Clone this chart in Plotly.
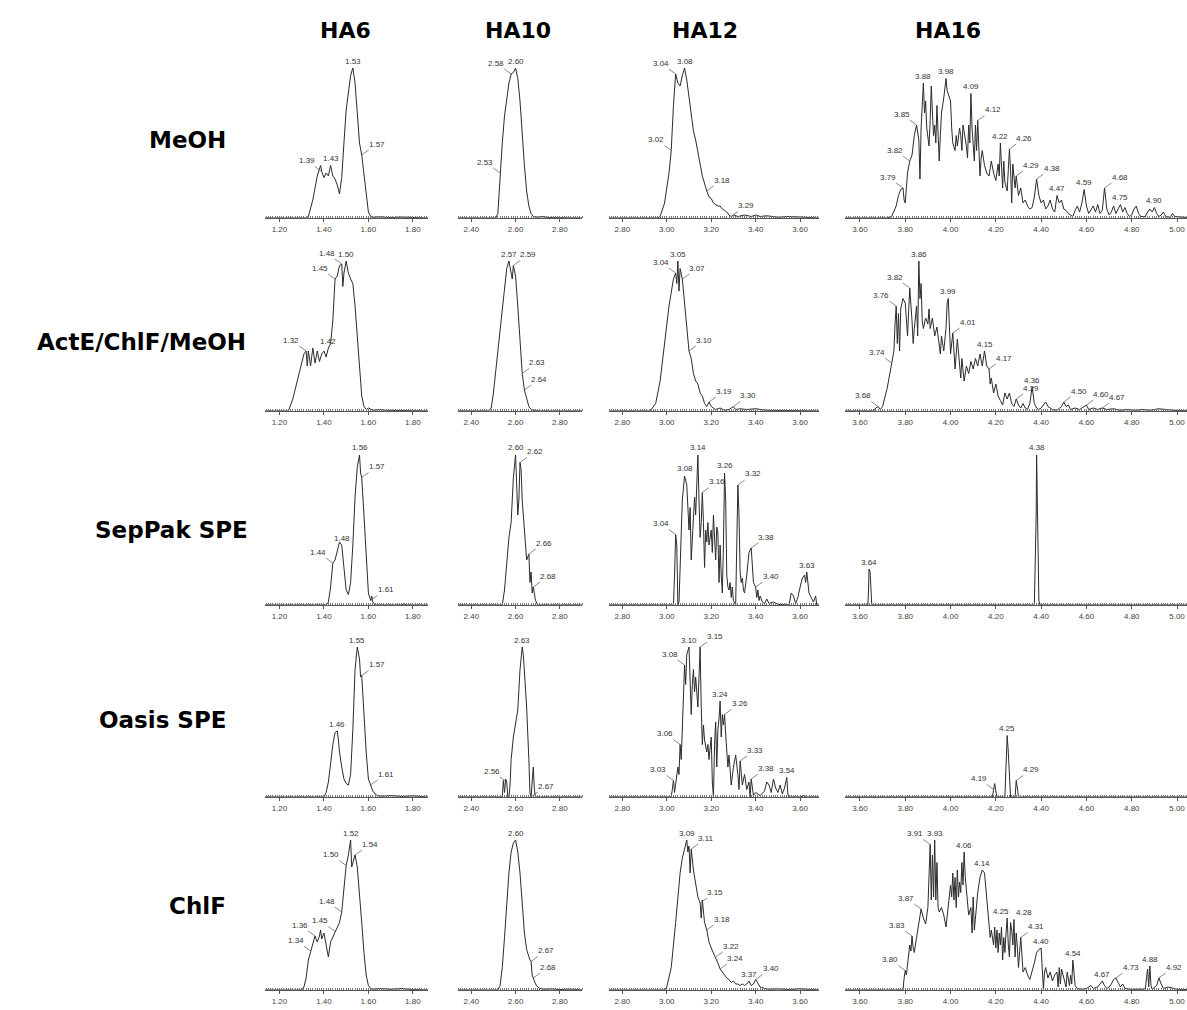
import numpy as np
import plotly.graph_objects as go

# ---------------- categories ----------------
columns = ["HA6", "HA10", "HA12", "HA16"]
rows = ["MeOH", "ActE/ChlF/MeOH", "SepPak SPE", "Oasis SPE", "ChlF"]

# ---------------- chromatogram data: (retention time, relative intensity) ----------------
meoh_ha6 = [(1.135,0),(1.32,0),(1.33,1),(1.35,12),(1.37,28),(1.385,35),(1.39,31),(1.40,27),(1.41,30),(1.42,28),
            (1.43,35),(1.44,28),(1.45,26),(1.46,22),(1.47,16),(1.48,27),(1.49,50),(1.50,72),(1.52,95),(1.53,100),
            (1.54,90),(1.55,68),(1.56,50),(1.57,42),(1.58,30),(1.59,14),(1.60,4),(1.61,1),(1.62,0.5),(1.65,0.8),
            (1.70,0.3),(1.75,0.6),(1.80,0.2),(1.868,0)]
meoh_ha10 = [(2.34,0),(2.51,0),(2.52,3),(2.53,30),(2.54,50),(2.55,68),(2.56,80),(2.57,90),(2.58,96),(2.59,97),
             (2.60,100),(2.61,93),(2.62,78),(2.63,55),(2.64,35),(2.65,18),(2.66,8),(2.67,3),(2.68,1),(2.70,0.5),
             (2.72,1),(2.75,0.3),(2.90,0)]
meoh_ha12 = [(2.74,0),(2.96,0),(2.97,1),(2.99,10),(3.01,30),(3.02,45),(3.03,75),(3.04,96),(3.05,90),(3.06,88),
             (3.07,95),(3.08,100),(3.09,92),(3.10,80),(3.11,68),(3.12,58),(3.13,52),(3.14,45),(3.15,36),(3.16,28),
             (3.17,22),(3.18,18),(3.19,14),(3.20,13),(3.21,10),(3.22,9),(3.23,8),(3.24,8),(3.25,6),(3.26,5),
             (3.27,4),(3.28,2),(3.29,1),(3.30,2),(3.32,1),(3.35,2),(3.38,1),(3.40,2),(3.42,1),(3.45,1.5),
             (3.50,0.5),(3.55,1),(3.60,1),(3.62,0.5),(3.685,0)]
meoh_ha16 = [(3.53,0),(3.72,0),(3.74,1),(3.76,8),(3.77,15),(3.78,19),(3.79,20),(3.795,12),(3.80,10),(3.81,30),
             (3.82,38),(3.83,42),(3.84,55),(3.85,62),(3.86,52),(3.865,26),(3.87,60),(3.88,90),(3.885,70),(3.89,78),
             (3.895,60),(3.90,52),(3.905,48),(3.91,65),(3.915,88),(3.92,70),(3.925,55),(3.93,62),(3.935,50),(3.94,75),
             (3.945,58),(3.95,38),(3.955,55),(3.96,70),(3.97,80),(3.98,93),(3.985,85),(3.99,82),(4.00,78),(4.005,60),
             (4.01,50),(4.02,45),(4.025,55),(4.03,48),(4.04,60),(4.045,55),(4.05,45),(4.055,62),(4.06,58),(4.07,48),
             (4.075,40),(4.08,62),(4.085,50),(4.09,83),(4.095,60),(4.10,45),(4.105,38),(4.11,62),(4.115,45),(4.12,65),
             (4.125,50),(4.13,28),(4.135,40),(4.14,45),(4.15,35),(4.16,30),(4.17,28),(4.18,38),(4.19,30),(4.20,25),
             (4.21,36),(4.215,28),(4.22,50),(4.225,35),(4.23,20),(4.235,38),(4.24,24),(4.25,18),(4.255,30),(4.26,46),
             (4.265,32),(4.27,10),(4.275,36),(4.28,30),(4.285,20),(4.29,28),(4.30,15),(4.31,20),(4.32,10),(4.33,12),
             (4.34,8),(4.35,6),(4.36,7),(4.37,14),(4.38,26),(4.39,15),(4.40,10),(4.41,12),(4.42,6),(4.43,8),
             (4.44,12),(4.45,6),(4.46,4),(4.47,15),(4.48,10),(4.49,12),(4.50,6),(4.51,5),(4.52,3),(4.53,2),
             (4.54,1),(4.55,5),(4.56,8),(4.57,4),(4.58,10),(4.59,19),(4.60,8),(4.61,3),(4.62,6),(4.63,8),
             (4.64,4),(4.65,9),(4.66,3),(4.67,5),(4.68,20),(4.69,6),(4.70,2),(4.71,4),(4.72,8),(4.73,3),
             (4.74,6),(4.75,9),(4.76,4),(4.77,7),(4.78,3),(4.79,1),(4.80,2),(4.81,6),(4.82,8),(4.83,3),
             (4.84,1),(4.86,1),(4.87,4),(4.88,6),(4.89,4),(4.90,7),(4.91,3),(4.92,1),(4.93,2),(4.94,4),
             (4.95,1),(4.97,0.5),(4.98,3),(4.99,1),(5.07,0)]

acte_ha6 = [(1.135,0),(1.24,0),(1.26,8),(1.28,20),(1.30,30),(1.31,38),(1.32,40),(1.325,30),(1.33,40),(1.34,30),
            (1.35,42),(1.36,32),(1.37,40),(1.38,33),(1.39,38),(1.40,40),(1.41,36),(1.42,42),(1.43,45),(1.44,60),
            (1.45,88),(1.46,90),(1.47,97),(1.48,98),(1.485,83),(1.49,92),(1.50,100),(1.51,92),(1.52,88),(1.53,85),
            (1.54,70),(1.55,50),(1.56,28),(1.57,10),(1.58,3),(1.59,1),(1.60,2),(1.62,0.5),(1.65,1),(1.68,0.5),
            (1.868,0)]
acte_ha10 = [(2.34,0),(2.48,0),(2.49,2),(2.50,12),(2.52,40),(2.54,70),(2.55,85),(2.56,95),(2.57,100),(2.58,93),
             (2.585,88),(2.59,97),(2.60,90),(2.61,70),(2.62,48),(2.63,25),(2.64,14),(2.65,8),(2.66,3),(2.67,1),
             (2.68,0.5),(2.70,0),(2.90,0)]
acte_ha12 = [(2.74,0),(2.92,0),(2.93,1),(2.95,5),(2.97,20),(2.99,45),(3.01,70),(3.03,88),(3.04,92),(3.045,85),
             (3.05,100),(3.055,80),(3.06,95),(3.07,88),(3.075,80),(3.08,75),(3.09,55),(3.10,40),(3.11,35),(3.12,25),
             (3.13,20),(3.14,18),(3.15,12),(3.16,10),(3.17,5),(3.18,3),(3.19,6),(3.20,3),(3.21,2),(3.22,1),
             (3.24,2),(3.26,0.5),(3.28,1),(3.29,2),(3.30,3),(3.31,1),(3.33,1.5),(3.36,1),(3.40,1.5),(3.45,0.5),
             (3.50,0.3),(3.685,0)]
acte_ha16 = [(3.53,0),(3.66,0),(3.67,2),(3.68,3),(3.69,1),(3.70,3),(3.72,15),(3.74,32),(3.75,40),(3.755,58),
             (3.76,70),(3.765,45),(3.77,65),(3.775,40),(3.78,68),(3.79,75),(3.80,72),(3.81,50),(3.82,82),(3.83,60),
             (3.835,45),(3.84,55),(3.85,70),(3.855,50),(3.86,100),(3.865,75),(3.87,85),(3.875,60),(3.88,55),(3.89,62),
             (3.90,58),(3.905,68),(3.91,55),(3.92,62),(3.93,50),(3.94,56),(3.95,45),(3.955,38),(3.96,50),(3.97,40),
             (3.98,55),(3.985,72),(3.99,75),(3.995,50),(4.00,38),(4.01,52),(4.015,35),(4.02,28),(4.03,48),(4.04,32),
             (4.045,22),(4.05,35),(4.06,20),(4.07,30),(4.08,25),(4.09,33),(4.10,28),(4.11,35),(4.12,30),(4.13,38),
             (4.14,30),(4.15,40),(4.16,30),(4.17,28),(4.175,18),(4.18,22),(4.19,12),(4.20,18),(4.21,10),(4.22,7),
             (4.23,4),(4.24,12),(4.25,8),(4.26,12),(4.27,5),(4.28,3),(4.29,8),(4.30,4),(4.31,2),(4.32,5),
             (4.33,2),(4.34,1),(4.35,5),(4.36,16),(4.37,5),(4.38,2),(4.39,1),(4.40,2),(4.42,6),(4.43,3),
             (4.45,1),(4.47,0.5),(4.49,3),(4.50,6),(4.51,3),(4.52,4),(4.53,1),(4.55,2),(4.57,1),(4.58,2),
             (4.60,4),(4.61,1),(4.63,2),(4.65,1),(4.67,2),(4.69,1),(4.72,1.5),(4.75,0.5),(4.78,1),(4.82,0.5),
             (4.85,1),(4.88,0.5),(4.92,1.5),(4.95,1),(4.98,0.5),(5.07,0)]

seppak_ha6 = [(1.135,0),(1.41,0),(1.42,2),(1.43,12),(1.44,28),(1.45,30),(1.46,36),(1.47,42),(1.48,40),(1.49,25),
              (1.50,10),(1.51,7),(1.52,15),(1.53,40),(1.54,72),(1.55,92),(1.56,100),(1.565,88),(1.57,85),(1.58,60),
              (1.59,30),(1.60,8),(1.61,3),(1.615,6),(1.62,2),(1.63,0),(1.75,0),(1.76,1),(1.77,0),(1.868,0)]
seppak_ha10 = [(2.34,0),(2.54,0),(2.55,10),(2.56,30),(2.57,45),(2.58,55),(2.59,85),(2.60,100),(2.605,80),(2.61,60),
               (2.615,70),(2.62,95),(2.625,90),(2.63,70),(2.64,50),(2.65,30),(2.66,34),(2.665,15),(2.67,22),(2.675,8),
               (2.68,12),(2.69,3),(2.70,0),(2.90,0)]
seppak_ha12 = [(2.74,0),(3.03,0),(3.035,20),(3.04,47),(3.045,40),(3.05,0),(3.055,2),(3.06,30),(3.07,70),(3.08,86),
               (3.09,80),(3.10,50),(3.105,65),(3.11,30),(3.12,55),(3.125,72),(3.13,60),(3.135,85),(3.14,100),(3.145,70),
               (3.15,45),(3.155,55),(3.16,75),(3.165,55),(3.17,25),(3.175,50),(3.18,42),(3.185,55),(3.19,40),(3.20,50),
               (3.205,35),(3.21,60),(3.215,45),(3.22,30),(3.225,52),(3.23,48),(3.235,15),(3.24,40),(3.245,20),(3.25,8),
               (3.255,40),(3.26,88),(3.265,70),(3.27,20),(3.275,12),(3.28,10),(3.285,15),(3.29,5),(3.295,12),(3.30,3),
               (3.31,0),(3.315,30),(3.32,80),(3.325,60),(3.33,22),(3.335,15),(3.34,18),(3.345,10),(3.35,8),(3.36,20),
               (3.37,35),(3.38,38),(3.385,25),(3.39,15),(3.40,12),(3.405,5),(3.41,10),(3.415,3),(3.42,6),(3.43,2),
               (3.44,1),(3.45,4),(3.46,1),(3.48,2),(3.50,0.5),(3.53,0),(3.55,0),(3.56,8),(3.57,6),(3.58,1),
               (3.59,5),(3.60,12),(3.61,18),(3.62,20),(3.625,15),(3.63,22),(3.635,12),(3.64,8),(3.65,5),(3.66,2),
               (3.67,6),(3.675,0),(3.685,0)]
seppak_ha16 = [(3.53,0),(3.635,0),(3.638,10),(3.64,24),(3.645,22),(3.648,8),(3.652,0),(4.37,0),(4.375,30),(4.378,60),
               (4.38,100),(4.383,70),(4.386,20),(4.39,3),(4.395,0),(5.07,0)]

oasis_ha6 = [(1.135,0),(1.40,0),(1.41,3),(1.42,10),(1.43,22),(1.44,35),(1.45,43),(1.46,44),(1.465,38),(1.47,30),
             (1.48,20),(1.49,12),(1.50,9),(1.51,8),(1.52,15),(1.53,45),(1.54,85),(1.55,100),(1.56,92),(1.565,80),
             (1.57,81),(1.58,55),(1.59,30),(1.60,12),(1.61,8),(1.62,4),(1.63,2),(1.64,1),(1.66,0.5),(1.70,1),
             (1.75,0.3),(1.80,0.8),(1.868,0)]
oasis_ha10 = [(2.34,0),(2.54,0),(2.545,11),(2.55,3),(2.555,12),(2.56,10),(2.565,0),(2.57,0),(2.575,8),(2.58,25),
              (2.59,40),(2.60,50),(2.61,58),(2.62,85),(2.63,100),(2.635,95),(2.64,85),(2.65,60),(2.66,25),(2.665,3),
              (2.67,0),(2.675,15),(2.68,20),(2.685,5),(2.69,0),(2.90,0)]
oasis_ha12 = [(2.74,0),(3.02,0),(3.025,5),(3.03,11),(3.035,3),(3.04,8),(3.05,20),(3.055,15),(3.06,35),(3.065,25),
              (3.07,50),(3.075,70),(3.08,88),(3.085,75),(3.09,95),(3.10,100),(3.105,80),(3.11,55),(3.115,75),(3.12,85),
              (3.125,70),(3.13,80),(3.14,60),(3.145,80),(3.15,100),(3.155,60),(3.16,35),(3.165,48),(3.17,38),(3.18,30),
              (3.185,35),(3.19,25),(3.20,40),(3.205,10),(3.21,0),(3.215,35),(3.22,50),(3.225,20),(3.23,45),(3.235,52),
              (3.24,64),(3.245,40),(3.25,55),(3.255,48),(3.26,55),(3.265,42),(3.27,30),(3.275,20),(3.28,28),(3.285,18),
              (3.29,8),(3.30,20),(3.31,28),(3.32,15),(3.325,5),(3.33,24),(3.335,12),(3.34,8),(3.35,15),(3.36,5),
              (3.37,10),(3.375,0),(3.38,12),(3.385,5),(3.39,1),(3.40,3),(3.42,1),(3.44,4),(3.45,10),(3.46,8),
              (3.47,3),(3.48,12),(3.49,6),(3.50,3),(3.51,8),(3.52,2),(3.53,6),(3.54,13),(3.545,2),(3.55,0),
              (3.60,0),(3.62,1),(3.63,0),(3.685,0)]
oasis_ha16 = [(3.53,0),(4.185,0),(4.19,5),(4.195,9),(4.20,4),(4.205,0),(4.24,0),(4.245,20),(4.25,41),(4.255,30),
              (4.26,10),(4.265,0),(4.285,0),(4.29,11),(4.295,6),(4.30,0),(5.07,0)]

chlf_ha6 = [(1.135,0),(1.30,0),(1.31,2),(1.32,8),(1.33,20),(1.34,26),(1.35,30),(1.36,36),(1.37,32),(1.38,36),
            (1.385,40),(1.39,34),(1.40,38),(1.41,30),(1.42,22),(1.43,32),(1.44,35),(1.45,39),(1.46,42),(1.47,45),
            (1.48,52),(1.49,70),(1.50,83),(1.51,90),(1.52,100),(1.525,82),(1.53,85),(1.54,90),(1.55,82),(1.56,65),
            (1.57,45),(1.58,25),(1.59,10),(1.60,3),(1.61,1),(1.62,0.5),(1.65,1),(1.70,0.5),(1.75,1),(1.80,0.3),
            (1.868,0)]
chlf_ha10 = [(2.34,0),(2.44,0),(2.45,0.5),(2.47,0),(2.52,0),(2.53,3),(2.54,15),(2.55,35),(2.56,58),(2.57,78),
             (2.58,92),(2.59,98),(2.60,100),(2.605,96),(2.61,92),(2.62,78),(2.63,58),(2.64,38),(2.65,27),(2.66,21),
             (2.665,20),(2.67,19),(2.675,10),(2.68,8),(2.69,4),(2.70,2),(2.71,1),(2.73,0.5),(2.76,0.8),(2.80,0.3),
             (2.85,0.6),(2.90,0)]
chlf_ha12 = [(2.74,0),(2.99,0),(3.00,2),(3.02,15),(3.04,45),(3.06,78),(3.07,88),(3.08,95),(3.09,100),(3.095,92),
             (3.10,96),(3.105,78),(3.11,94),(3.12,80),(3.13,70),(3.14,62),(3.15,58),(3.155,48),(3.16,60),(3.17,45),
             (3.18,40),(3.19,32),(3.20,28),(3.21,25),(3.22,22),(3.23,18),(3.24,14),(3.25,12),(3.26,10),(3.27,8),
             (3.28,7),(3.29,5),(3.30,6),(3.31,4),(3.32,4),(3.33,3),(3.34,4),(3.35,3),(3.36,4),(3.37,6),
             (3.38,3),(3.39,4),(3.40,7),(3.41,4),(3.42,2),(3.44,1),(3.46,0.5),(3.50,0.8),(3.55,0.3),(3.60,0.8),
             (3.65,0.5),(3.685,0)]
chlf_ha16 = [(3.53,0),(3.79,0),(3.795,8),(3.80,13),(3.805,10),(3.81,18),(3.82,30),(3.825,26),(3.83,36),(3.835,28),
             (3.84,25),(3.85,35),(3.86,45),(3.87,54),(3.88,48),(3.89,44),(3.90,55),(3.905,75),(3.91,97),(3.915,60),
             (3.92,90),(3.925,62),(3.93,100),(3.935,60),(3.94,85),(3.945,55),(3.95,52),(3.96,55),(3.97,50),(3.98,42),
             (3.99,55),(4.00,70),(4.005,62),(4.01,78),(4.015,60),(4.02,75),(4.025,55),(4.03,80),(4.035,62),(4.04,72),
             (4.045,65),(4.05,85),(4.055,70),(4.06,92),(4.065,75),(4.07,65),(4.08,50),(4.09,55),(4.095,38),(4.10,62),
             (4.105,40),(4.11,48),(4.12,65),(4.13,75),(4.14,80),(4.15,78),(4.16,60),(4.17,45),(4.175,35),(4.18,40),
             (4.19,30),(4.195,42),(4.20,28),(4.205,40),(4.21,25),(4.215,38),(4.22,30),(4.225,42),(4.23,20),(4.235,35),
             (4.24,25),(4.245,38),(4.25,48),(4.255,30),(4.26,22),(4.265,45),(4.27,40),(4.275,30),(4.28,47),(4.285,22),
             (4.29,38),(4.295,28),(4.30,15),(4.31,35),(4.315,20),(4.32,12),(4.33,15),(4.34,10),(4.35,7),(4.36,12),
             (4.37,18),(4.38,25),(4.39,27),(4.40,28),(4.405,15),(4.41,0),(4.415,12),(4.42,15),(4.43,8),(4.44,12),
             (4.45,6),(4.46,10),(4.47,12),(4.475,2),(4.48,15),(4.485,4),(4.49,14),(4.50,8),(4.51,2),(4.515,12),
             (4.52,8),(4.525,3),(4.53,10),(4.535,4),(4.54,20),(4.545,8),(4.55,3),(4.56,1),(4.58,0.5),(4.60,1),
             (4.62,3),(4.63,1),(4.65,2),(4.66,4),(4.67,6),(4.68,3),(4.69,1),(4.70,2),(4.71,4),(4.72,7),
             (4.73,8),(4.74,5),(4.75,2),(4.76,4),(4.77,1),(4.79,0.5),(4.82,0.3),(4.85,0.5),(4.86,1),(4.87,14),
             (4.875,2),(4.88,16),(4.885,3),(4.89,0.5),(4.91,3),(4.92,8),(4.93,4),(4.94,1),(4.96,2),(4.98,1),
             (5.00,0.5),(5.07,0)]

# ---------------- peak labels (retention times) ----------------
meoh_ha6_peaks = ["1.39", "1.43", "1.53", "1.57"]
meoh_ha10_peaks = ["2.53", "2.58", "2.60"]
meoh_ha12_peaks = ["3.02", "3.04", "3.08", "3.18", "3.29"]
meoh_ha16_peaks = ["3.79", "3.82", "3.85", "3.88", "3.98", "4.09", "4.12", "4.22", "4.26", "4.29", "4.38",
                   "4.47", "4.59", "4.68", "4.75", "4.90"]
acte_ha6_peaks = ["1.32", "1.42", "1.45", "1.48", "1.50"]
acte_ha10_peaks = ["2.57", "2.59", "2.63", "2.64"]
acte_ha12_peaks = ["3.04", "3.05", "3.07", "3.10", "3.19", "3.30"]
acte_ha16_peaks = ["3.68", "3.74", "3.76", "3.82", "3.86", "3.99", "4.01", "4.15", "4.17", "4.29", "4.36",
                   "4.50", "4.60", "4.67"]
seppak_ha6_peaks = ["1.44", "1.48", "1.56", "1.57", "1.61"]
seppak_ha10_peaks = ["2.60", "2.62", "2.66", "2.68"]
seppak_ha12_peaks = ["3.04", "3.08", "3.14", "3.16", "3.26", "3.32", "3.38", "3.40", "3.63"]
seppak_ha16_peaks = ["3.64", "4.38"]
oasis_ha6_peaks = ["1.46", "1.55", "1.57", "1.61"]
oasis_ha10_peaks = ["2.56", "2.63", "2.67"]
oasis_ha12_peaks = ["3.03", "3.06", "3.08", "3.10", "3.15", "3.24", "3.26", "3.33", "3.38", "3.54"]
oasis_ha16_peaks = ["4.19", "4.25", "4.29"]
chlf_ha6_peaks = ["1.34", "1.36", "1.45", "1.48", "1.50", "1.52", "1.54"]
chlf_ha10_peaks = ["2.60", "2.67", "2.68"]
chlf_ha12_peaks = ["3.09", "3.11", "3.15", "3.18", "3.22", "3.24", "3.37", "3.40"]
chlf_ha16_peaks = ["3.80", "3.83", "3.87", "3.91", "3.93", "4.06", "4.14", "4.25", "4.28", "4.31", "4.40",
                   "4.54", "4.67", "4.73", "4.88", "4.92"]

# ---------------- layout / placement (styles, not data) ----------------
# l = up-left with leader, r = up-right with leader, u = straight above,
# a / b = straight above nudged left / right (for touching label pairs)
label_side = {
    (0, 0): "luur", (0, 1): "llu", (0, 2): "llurr", (0, 3): "llluuururrruuruu",
    (1, 0): "lullu", (1, 1): "urrr", (1, 2): "lurrrr", (1, 3): "lllluururrurrr",
    (2, 0): "luurr", (2, 1): "urrr", (2, 2): "luururrru", (2, 3): "uu",
    (3, 0): "uurr", (3, 1): "lur", (3, 2): "lllururrru", (3, 3): "lur",
    (4, 0): "lllllur", (4, 1): "urr", (4, 2): "urrrrrur", (4, 3): "lllluuuabruuurur",
}

grid = [
    [meoh_ha6, meoh_ha10, meoh_ha12, meoh_ha16],
    [acte_ha6, acte_ha10, acte_ha12, acte_ha16],
    [seppak_ha6, seppak_ha10, seppak_ha12, seppak_ha16],
    [oasis_ha6, oasis_ha10, oasis_ha12, oasis_ha16],
    [chlf_ha6, chlf_ha10, chlf_ha12, chlf_ha16],
]
peak_grid = [
    [meoh_ha6_peaks, meoh_ha10_peaks, meoh_ha12_peaks, meoh_ha16_peaks],
    [acte_ha6_peaks, acte_ha10_peaks, acte_ha12_peaks, acte_ha16_peaks],
    [seppak_ha6_peaks, seppak_ha10_peaks, seppak_ha12_peaks, seppak_ha16_peaks],
    [oasis_ha6_peaks, oasis_ha10_peaks, oasis_ha12_peaks, oasis_ha16_peaks],
    [chlf_ha6_peaks, chlf_ha10_peaks, chlf_ha12_peaks, chlf_ha16_peaks],
]

W, H = 1187, 1010
x_ranges = [(1.135, 1.868), (2.34, 2.90), (2.74, 3.685), (3.534, 5.044)]
col_px = [(265, 428), (458, 582), (609, 819), (845, 1187)]
base_px = [218, 411, 605, 797, 990]
panel_h = 162
header_x = [345, 518, 705, 948]
row_label_pos = [(228, 140), (248, 342), (250, 530), (228, 720), (228, 906)]

fig = go.Figure()
layout = {}
annotations = []


def peak_height(t, y, tp):
    m = np.abs(t - tp) <= 0.0031
    if m.any():
        return float(y[m].max())
    return float(np.interp(tp, t, y))


for r in range(5):
    for c in range(4):
        i = r * 4 + c + 1
        sfx = "" if i == 1 else str(i)
        xa, ya = "x" + sfx, "y" + sfx
        pts = np.array(grid[r][c], dtype=float)
        t, y = pts[:, 0], pts[:, 1]
        fig.add_trace(go.Scatter(x=t, y=y, mode="lines", xaxis=xa, yaxis=ya,
                                 line=dict(color="#2b2b2b", width=1), showlegend=False,
                                 hoverinfo="skip"))
        x0, x1 = col_px[c]
        b = base_px[r]
        layout["xaxis" + sfx] = dict(
            domain=[x0 / W, min(x1 / W, 1.0)], range=list(x_ranges[c]), anchor=ya,
            showgrid=False, zeroline=False, showline=True, linecolor="#555", linewidth=1,
            ticks="outside", ticklen=3, tickcolor="#555", tickwidth=1,
            tick0=0, dtick=0.2, tickformat=".2f",
            tickfont=dict(size=8, color="#444", family="Liberation Sans"),
            minor=dict(dtick=0.01, ticks="inside", ticklen=2, tickcolor="#777", tickwidth=1, showgrid=False),
        )
        layout["yaxis" + sfx] = dict(
            domain=[(H - b) / H, (H - b + panel_h) / H], range=[0, 108], anchor=xa,
            visible=False, showgrid=False, zeroline=False,
        )
        sides = label_side[(r, c)]
        for k, lab in enumerate(peak_grid[r][c]):
            tp = float(lab)
            yp = peak_height(t, y, tp)
            side = sides[k] if k < len(sides) else "u"
            ann = dict(x=tp, y=yp, xref=xa, yref=ya, text=lab,
                       font=dict(size=8, color="#333", family="Liberation Sans"))
            if side == "u":
                ann.update(showarrow=False, yshift=7)
            elif side == "a":
                ann.update(showarrow=False, yshift=7, xshift=-6)
            elif side == "b":
                ann.update(showarrow=False, yshift=7, xshift=10)
            else:
                ann.update(showarrow=True, arrowhead=0, arrowwidth=0.7, arrowcolor="#555",
                           standoff=0, ax=(-15 if side == "l" else 15), ay=-11)
            annotations.append(ann)

for c, name in enumerate(columns):
    annotations.append(dict(x=header_x[c] / W, y=1 - 30 / H, xref="paper", yref="paper",
                            text=name, showarrow=False, xanchor="center", yanchor="middle",
                            font=dict(size=22, color="#000", family="DejaVu Sans", weight="bold")))
for r, name in enumerate(rows):
    xr, yc = row_label_pos[r]
    annotations.append(dict(x=xr / W, y=1 - yc / H, xref="paper", yref="paper",
                            text=name, showarrow=False, xanchor="right", yanchor="middle",
                            font=dict(size=23, color="#000", family="DejaVu Sans", weight="bold")))

fig.update_layout(
    width=W, height=H, margin=dict(l=0, r=0, t=0, b=0),
    paper_bgcolor="white", plot_bgcolor="white",
    annotations=annotations, **layout,
)
fig.write_html("out.html", config={"displayModeBar": False},
               post_script="document.body.style.margin='0';document.body.style.overflow='hidden';")
